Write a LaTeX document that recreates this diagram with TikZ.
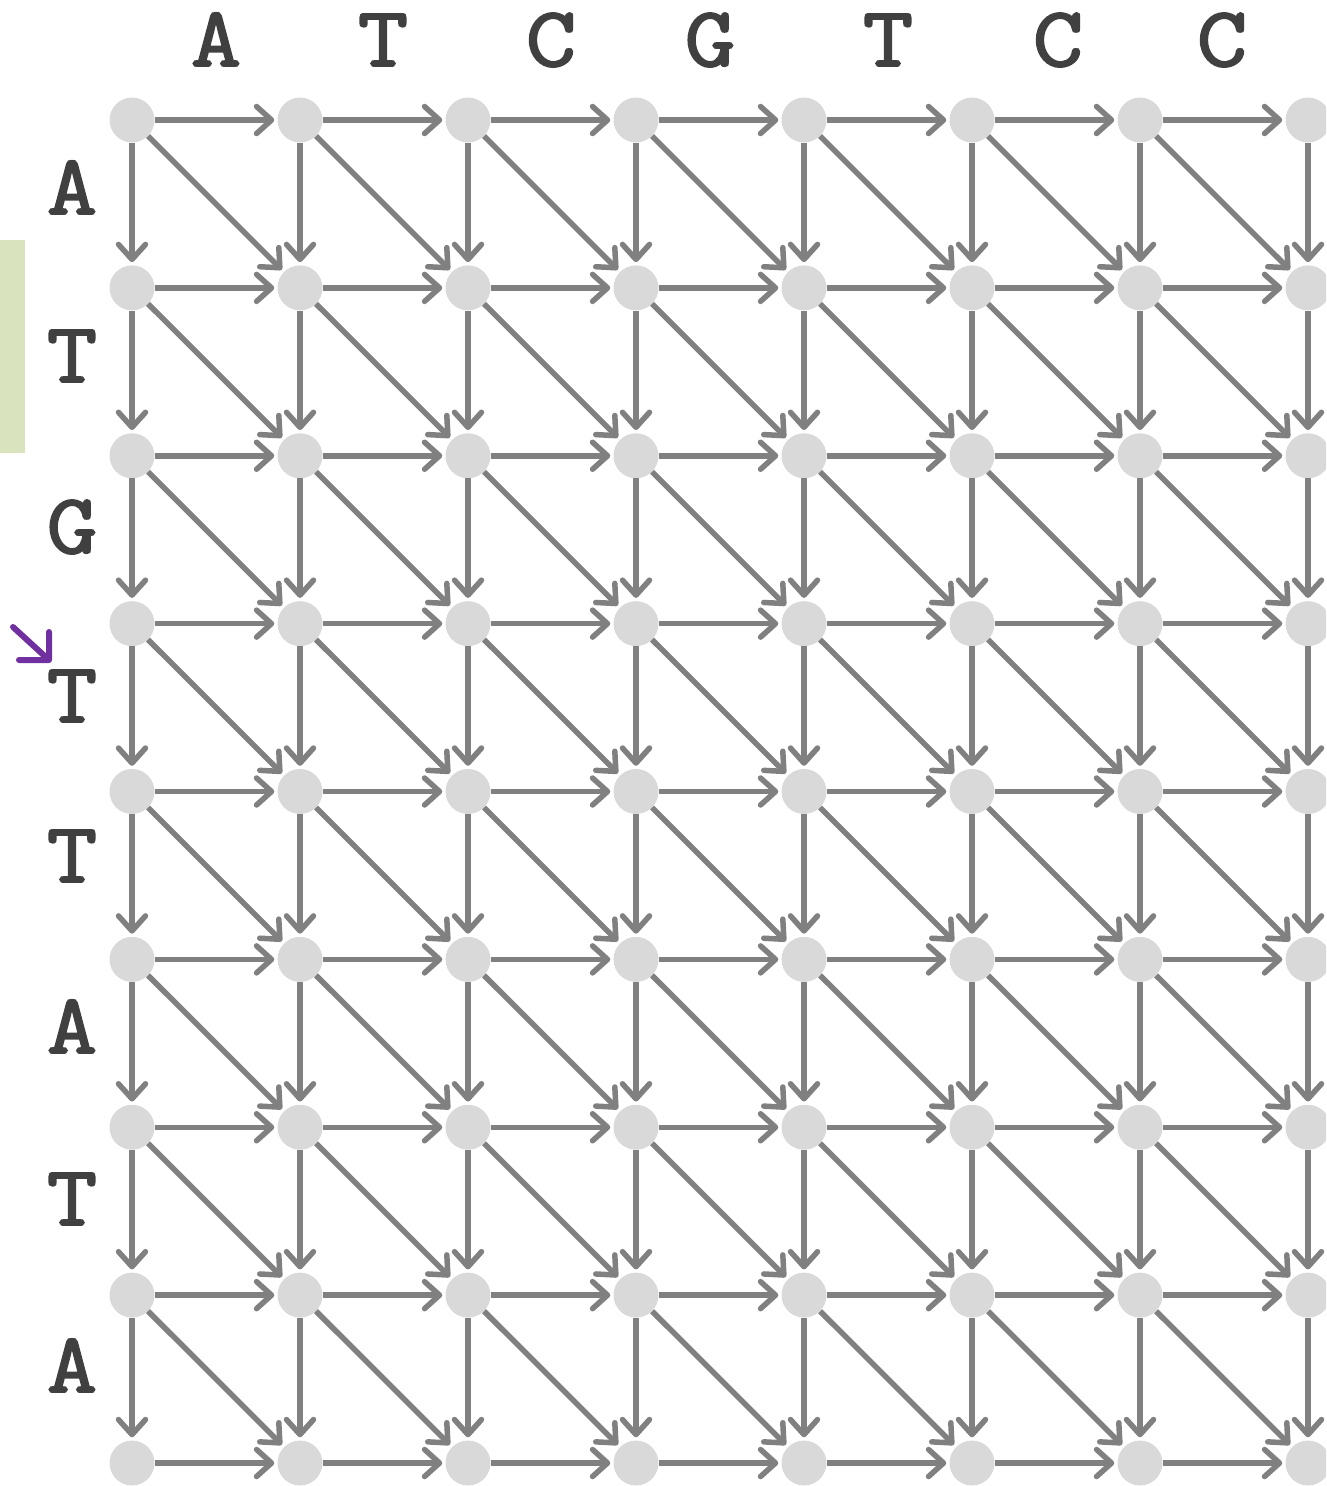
\documentclass[tikz,border=0pt]{standalone}
\usepackage{fontspec}
\newfontfamily\seqfont{Latin Modern Mono}[FakeBold=2.3,FakeStretch=1.15]
\usetikzlibrary{arrows.meta}
\definecolor{nodegray}{HTML}{D9D9D9}
\definecolor{edgegray}{HTML}{808080}
\definecolor{labelgray}{HTML}{404040}
\definecolor{markgreen}{HTML}{D9E4BF}
\definecolor{markpurple}{HTML}{7030A0}
\begin{document}
\begin{tikzpicture}[x=1pt,y=-1pt,
 gridnode/.style={circle,fill=nodegray,minimum size=45pt,inner sep=0pt},
 edge/.style={draw=edgegray,line width=5.5pt,-{Straight Barb[length=15pt,width=27pt,round]},shorten >=3pt},
 seqlabel/.style={font=\seqfont\fontsize{85}{85}\selectfont,text=labelgray,inner sep=0pt,anchor=base}]
\useasboundingbox (0,0) rectangle (1326,1486);
\clip (0,0) rectangle (1326,1486);
\fill[markgreen] (0,240) rectangle (25,453);
\foreach \i in {0,...,7}{\foreach \j in {0,...,8}{
  \node[gridnode] (n-\i-\j) at ({132+168*\i},{120+167.875*\j}) {};
}}
\foreach \i in {0,...,7}{\foreach \j in {0,...,8}{
  \pgfmathtruncatemacro\ni{\i+1}\pgfmathtruncatemacro\nj{\j+1}
  \ifnum\i<7 \draw[edge] (n-\i-\j) -- (n-\ni-\j);\fi
  \ifnum\j<8 \draw[edge] (n-\i-\j) -- (n-\i-\nj);\fi
  \ifnum\i<7 \ifnum\j<8 \draw[edge] (n-\i-\j) -- (n-\ni-\nj);\fi\fi
}}
% top sequence
\node[seqlabel] (t1) at (216,66) {A};
\node[seqlabel] (t2) at (383,66) {T};
\node[seqlabel] (t3) at (551,66) {C};
\node[seqlabel] (t4) at (710,66) {G};
\node[seqlabel] (t5) at (888,66) {T};
\node[seqlabel] (t6) at (1058,66) {C};
\node[seqlabel] (t7) at (1222,66) {C};
% left sequence
\node[seqlabel] (l1) at (72,214) {A};
\node[seqlabel] (l2) at (72,382) {T};
\node[seqlabel] (l3) at (72,553) {G};
\node[seqlabel] (l4) at (72,722) {T};
\node[seqlabel] (l5) at (72,882) {T};
\node[seqlabel] (l6) at (72,1053) {A};
\node[seqlabel] (l7) at (72,1225) {T};
\node[seqlabel] (l8) at (72,1392) {A};
% purple marker
\coordinate (pa) at (13,627);
\coordinate (pb) at (49,660);
\coordinate (pc) at (49,632);
\coordinate (pd) at (19,660);
\draw[markpurple,line width=6pt,line cap=round,line join=round] (pa) -- (pb) (pc) -- (pb) -- (pd);
\end{tikzpicture}
\end{document}
